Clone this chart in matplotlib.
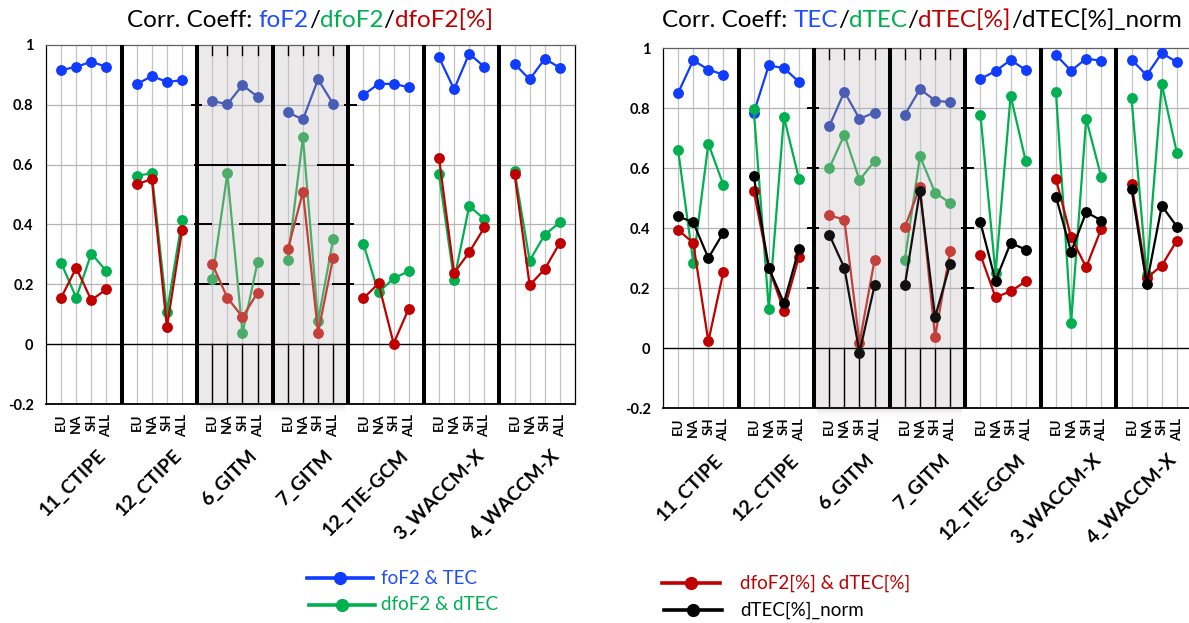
import numpy as np
import matplotlib
matplotlib.use('Agg')
import matplotlib.pyplot as plt
from matplotlib.lines import Line2D
from matplotlib.patches import Rectangle
from matplotlib.transforms import blended_transform_factory

plt.rcParams.update({'font.family': ['Lato', 'DejaVu Sans']})

W, H = 1189, 623

regions = ['EU', 'NA', 'SH', 'ALL']
models = ['11_CTIPE', '12_CTIPE', '6_GITM', '7_GITM', '12_TIE-GCM', '3_WACCM-X', '4_WACCM-X']

# foF2 panel: one row of EU/NA/SH/ALL per model
fof2_tec = [[0.916, 0.927, 0.944, 0.927],
            [0.869, 0.896, 0.877, 0.882],
            [0.813, 0.802, 0.866, 0.827],
            [0.775, 0.751, 0.885, 0.803],
            [0.833, 0.870, 0.870, 0.859],
            [0.959, 0.852, 0.971, 0.927],
            [0.937, 0.885, 0.954, 0.924]]
dfof2_dtec = [[0.272, 0.155, 0.303, 0.244],
              [0.563, 0.571, 0.106, 0.415],
              [0.219, 0.571, 0.036, 0.275],
              [0.280, 0.692, 0.078, 0.351],
              [0.334, 0.173, 0.220, 0.244],
              [0.568, 0.214, 0.462, 0.418],
              [0.580, 0.279, 0.366, 0.407]]
dfof2pct_dtecpct = [[0.155, 0.255, 0.147, 0.184],
                    [0.534, 0.552, 0.057, 0.381],
                    [0.268, 0.155, 0.091, 0.172],
                    [0.317, 0.509, 0.038, 0.289],
                    [0.153, 0.203, 0.002, 0.119],
                    [0.623, 0.238, 0.307, 0.390],
                    [0.569, 0.197, 0.251, 0.339]]

# TEC panel
tec_r = [[0.850, 0.959, 0.928, 0.911],
         [0.783, 0.942, 0.933, 0.887],
         [0.739, 0.854, 0.764, 0.785],
         [0.777, 0.863, 0.825, 0.819],
         [0.897, 0.923, 0.960, 0.927],
         [0.977, 0.924, 0.965, 0.957],
         [0.961, 0.909, 0.983, 0.953]]
dtec_r = [[0.660, 0.285, 0.681, 0.543],
          [0.798, 0.130, 0.770, 0.563],
          [0.599, 0.711, 0.560, 0.623],
          [0.294, 0.639, 0.518, 0.483],
          [0.778, 0.250, 0.841, 0.623],
          [0.852, 0.084, 0.764, 0.569],
          [0.832, 0.244, 0.880, 0.650]]
dtecpct_r = [[0.394, 0.350, 0.022, 0.255],
             [0.525, 0.267, 0.125, 0.305],
             [0.442, 0.428, 0.017, 0.294],
             [0.402, 0.537, 0.037, 0.324],
             [0.311, 0.169, 0.189, 0.222],
             [0.563, 0.369, 0.269, 0.398],
             [0.547, 0.233, 0.275, 0.358]]
dtecnorm_r = [[0.439, 0.419, 0.300, 0.385],
              [0.574, 0.267, 0.150, 0.331],
              [0.378, 0.267, -0.015, 0.209],
              [0.209, 0.524, 0.103, 0.280],
              [0.419, 0.224, 0.350, 0.328],
              [0.505, 0.320, 0.453, 0.425],
              [0.531, 0.213, 0.474, 0.405]]

BLUE, GREEN, RED, BLACK = '#0f3cff', '#00b050', '#c00000', '#000000'
# dimmed versions used inside the grey GITM block
DIM = {BLUE: '#4a5db4', GREEN: '#4cad6a', RED: '#c4403a', BLACK: '#111111'}
SHADE = '#ece9eb'
shaded_groups = (2, 3)

fig = plt.figure(figsize=(W / 100, H / 100), dpi=100)


def axes_px(x0, x1, ytop, ybot):
    return fig.add_axes([x0 / W, 1 - ybot / H, (x1 - x0) / W, (ybot - ytop) / H])


def draw_panel(ax, series, dark_grid):
    ax.set_xlim(0, 35)
    ax.set_ylim(-0.2, 1)
    ax.axvspan(10, 20, color=SHADE, zorder=0, lw=0)

    pos = [5 * g + k for g in range(7) for k in range(1, 5)]
    for p in pos:
        ax.axvline(p, color='#c4c4c4', lw=0.9, zorder=1)
    for y in [0.2, 0.4, 0.6, 0.8]:
        ax.axhline(y, color='#b4b4b4', lw=0.9, zorder=1)
    ax.axhline(0, color='black', lw=1.0, zorder=2)

    # black gridwork of the GITM block
    for p in pos[8:16]:
        ax.plot([p, p], [-0.2, 0], color='black', lw=1.0, zorder=2)
        ax.plot([p, p], [0.965, 1], color='black', lw=1.0, zorder=2)
    for y, segs in dark_grid:
        for a, b in segs:
            ax.plot([a, b], [y, y], color='black', lw=1.4, zorder=2, solid_capstyle='butt')

    for s in range(5, 31, 5):
        ax.axvline(s, color='black', lw=2.9, zorder=3)
    # soft shadow under the grey block
    for i, a in enumerate([0.10, 0.07, 0.045, 0.025, 0.012]):
        ax.add_patch(Rectangle((10.2, -0.2 - 0.006 * (i + 1)), 9.6, 0.006,
                               color='black', alpha=a, lw=0, clip_on=False))

    for vals, col in series:
        for g in range(7):
            x = 5 * g + np.arange(1, 5)
            c = DIM[col] if g in shaded_groups else col
            ax.plot(x, vals[g], '-o', color=c, lw=1.6, ms=6.8, zorder=5)

    ax.set_xticks(pos)
    ax.set_xticklabels(regions * 7, rotation=90, fontsize=9.5, fontweight='bold')
    ax.set_yticks([-0.2, 0, 0.2, 0.4, 0.6, 0.8, 1])
    ax.set_yticklabels(['-0.2', '0', '0.2', '0.4', '0.6', '0.8', '1'],
                       fontsize=10.5, fontweight='bold')
    ax.tick_params(length=0)
    ax.tick_params(axis='x', pad=7)
    ax.tick_params(axis='y', pad=9)
    for sp in ax.spines.values():
        sp.set_color('black')
        sp.set_linewidth(0.9)
    ax.spines['bottom'].set_linewidth(1.3)
    ax.spines['top'].set_color('#606060')

    tr = blended_transform_factory(ax.transData, ax.transAxes)
    for g, m in enumerate(models):
        ax.text(5 * g + 3.4, -0.12, m, transform=tr, rotation=45,
                rotation_mode='anchor', ha='right', va='top',
                fontsize=14, fontweight='bold')


ax1 = axes_px(46, 575, 45, 404)
draw_panel(ax1, [(fof2_tec, BLUE), (dfof2_dtec, GREEN), (dfof2pct_dtecpct, RED)],
           [(0.8, [(9.6, 10.3), (19.7, 20.6)]),
            (0.6, [(9.8, 15.9), (17.9, 20.4)]),
            (0.4, [(9.8, 11.0), (12.8, 16.8), (18.0, 20.4)]),
            (0.2, [(9.8, 12.1), (12.8, 16.8), (18.9, 20.4)])])

ax2 = axes_px(663, 1192, 48, 408)
draw_panel(ax2, [(tec_r, BLUE), (dtec_r, GREEN), (dtecpct_r, RED), (dtecnorm_r, BLACK)],
           [(y, [(9.5, 10.3), (19.7, 20.6)]) for y in (0.8, 0.6, 0.4, 0.2)])

renderer = fig.canvas.get_renderer()


def colour_title(xc, y, parts, size):
    texts = [fig.text(0, y, s, color=c, fontsize=size, va='baseline') for s, c in parts]
    widths = [t.get_window_extent(renderer).width for t in texts]
    gap = (fig.text(0, 0, 'a a', fontsize=size).get_window_extent(renderer).width
           - fig.text(0, 0, 'aa', fontsize=size).get_window_extent(renderer).width)
    fig.texts[-2].remove()
    fig.texts[-1].remove()
    total = sum(widths) + gap
    x = xc - total / 2
    for i, (t, w) in enumerate(zip(texts, widths)):
        t.set_x(x / W)
        x += w + (gap if i == 0 else 0)


colour_title(310, 1 - 27 / H, [('Corr. Coeff:', 'black'), ('foF2', '#1f4dff'), ('/', 'black'),
                               ('dfoF2', GREEN), ('/', 'black'), ('dfoF2[%]', RED)], 17.5)
colour_title(922, 1 - 27 / H, [('Corr. Coeff:', 'black'), ('TEC', '#1f4dff'), ('/', 'black'),
                               ('dTEC', GREEN), ('/', 'black'), ('dTEC[%]', RED),
                               ('/dTEC[%]_norm', 'black')], 17.5)

# legend drawn in figure pixels
legend = [(307, 373, 578, BLUE, 'foF2 & TEC', '#1f4dff', 381),
          (309, 375, 605, GREEN, 'dfoF2 & dTEC', GREEN, 381),
          (662, 720, 583, RED, 'dfoF2[%] & dTEC[%]', RED, 740),
          (664, 722, 610, BLACK, 'dTEC[%]_norm', BLACK, 740)]
for x0, x1, y, c, lab, tc, tx in legend:
    fig.add_artist(Line2D([x0 / W, x1 / W], [1 - y / H, 1 - y / H], color=c, lw=2.6,
                          transform=fig.transFigure))
    fig.add_artist(Line2D([(x0 + x1) / 2 / W], [1 - y / H], color=c, marker='o', ms=8.5,
                          transform=fig.transFigure))
    fig.text(tx / W, 1 - y / H, lab, color=tc, fontsize=13.5, va='center')

fig.savefig('out.png', dpi=100)
